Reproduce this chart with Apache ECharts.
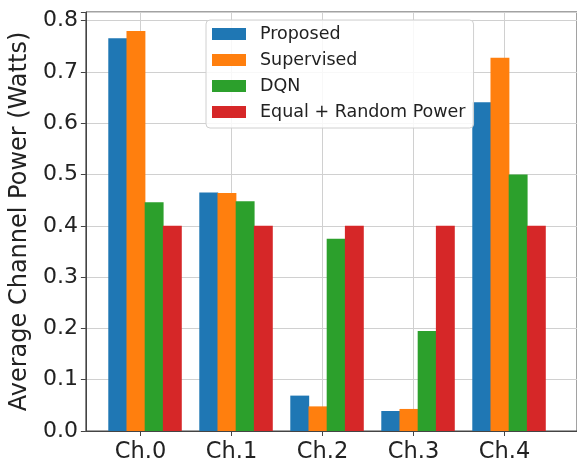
<!DOCTYPE html>
<html>
<head>
<meta charset="utf-8">
<script src="https://cdn.jsdelivr.net/npm/echarts@6/dist/echarts.min.js"></script>
<style>
html,body{margin:0;padding:0;background:#fff;overflow:hidden;}
#chart{width:577px;height:464px;}
</style>
</head>
<body>
<div id="chart"></div>
<script>
const categories = ['Ch.0', 'Ch.1', 'Ch.2', 'Ch.3', 'Ch.4'];
const seriesNames = ['Proposed', 'Supervised', 'DQN', 'Equal + Random Power'];
const proposed   = [0.766, 0.465, 0.069, 0.039, 0.641];
const supervised = [0.780, 0.464, 0.048, 0.043, 0.728];
const dqn        = [0.446, 0.448, 0.375, 0.195, 0.500];
const equalRand  = [0.400, 0.400, 0.400, 0.400, 0.400];
const yTicks = [0.0, 0.1, 0.2, 0.3, 0.4, 0.5, 0.6, 0.7, 0.8];

const allValues = [proposed, supervised, dqn, equalRand];
const colors = ['#1f77b4', '#ff7f0e', '#2ca02c', '#d62728'];
const barOffsets = [-0.25, -0.05, 0.15, 0.35];
const unitPx = 94.5;
const gridWidth = 510;
const xMin = -0.6;
const font = 'DejaVu Sans';

const chart = echarts.init(document.getElementById('chart'), null, {renderer: 'canvas'});
const series = allValues.map((vals, k) => ({
  name: seriesNames[k],
  type: 'bar',
  data: vals.map((v, i) => [i + barOffsets[k], v]),
  barWidth: 0.2 * unitPx,
  barGap: '-100%',
  itemStyle: {color: colors[k]},
  emphasis: {disabled: true},
  animation: false
}));

chart.setOption({
  animation: false,
  backgroundColor: '#ffffff',
  grid: {
    left: 85, top: 12, width: gridWidth, height: 422,
    show: true, borderColor: '#444', borderWidth: 1, backgroundColor: 'transparent'
  },
  legend: {
    data: seriesNames,
    orient: 'vertical',
    left: 206, top: 20,
    icon: 'rect',
    itemWidth: 34, itemHeight: 12,
    itemGap: 8,
    padding: [5, 8, 7, 6],
    backgroundColor: 'rgba(255,255,255,0.85)',
    borderColor: '#d0d0d0', borderWidth: 1, borderRadius: 4,
    textStyle: {fontFamily: font, fontSize: 17.5, color: '#222', lineHeight: 17, padding: [0, 0, 0, 9]}
  },
  xAxis: {
    type: 'value',
    min: xMin, max: xMin + gridWidth / unitPx,
    splitNumber: 5,
    axisLine: {show: true, onZero: false, lineStyle: {color: '#444', width: 1}},
    axisTick: {show: true, length: 5, lineStyle: {color: '#444'}},
    axisLabel: {
      fontFamily: font, fontSize: 22.5, color: '#222', margin: 10,
      showMinLabel: false, showMaxLabel: false,
      formatter: v => (Math.abs(v - Math.round(v)) < 1e-6 && categories[Math.round(v)] !== undefined) ? categories[Math.round(v)] : ''
    },
    splitLine: {show: true, lineStyle: {color: '#d0d0d0', width: 1}}
  },
  yAxis: {
    type: 'value',
    min: 0, max: 0.817, interval: 0.1,
    name: 'Average Channel Power (Watts)',
    nameLocation: 'middle',
    nameGap: 49,
    nameTextStyle: {fontFamily: font, fontSize: 24, color: '#222'},
    axisLine: {show: true, onZero: false, lineStyle: {color: '#444', width: 1}},
    axisTick: {show: true, length: 5, lineStyle: {color: '#444'}},
    axisLabel: {
      fontFamily: font, fontSize: 22, color: '#222', margin: 8,
      padding: [5, 0, 0, 0],
      formatter: v => {
        const t = yTicks.find(y => Math.abs(y - v) < 1e-6);
        return t === undefined ? '' : t.toFixed(1);
      }
    },
    splitLine: {show: true, lineStyle: {color: '#d0d0d0', width: 1}}
  },
  series: series
});
</script>
</body>
</html>
